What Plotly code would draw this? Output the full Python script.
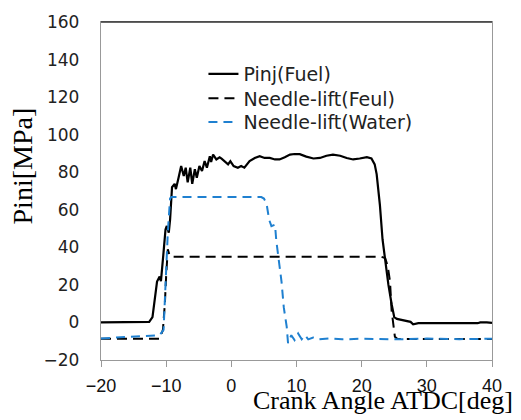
import plotly.graph_objects as go

# Fuel injection pressure trace
angle_pinj = [-20, -13.0, -12.6, -12.1, -11.8, -11.4, -11.0, -10.8, -10.4, -10.1, -9.9, -9.6,
              -9.4, -9.1, -8.7, -8.5, -8.1, -7.7, -7.3, -7.0, -6.7, -6.3, -6.0, -5.6, -5.3,
              -4.9, -4.5, -4.1, -3.75, -3.3, -3.1, -2.8, -2.3, -1.8, -1.5, -1.0, -0.5, -0.15,
              0.35, 1.0, 1.5, 2.0, 2.8, 3.6, 4.35, 5.1, 5.9, 6.7, 7.4, 8.2, 9.0, 9.7, 10.5,
              11.5, 12.6, 13.6, 14.6, 15.6, 16.7, 17.7, 18.7, 19.7, 20.8, 21.5, 22.0, 22.3,
              22.55, 22.8, 23.2, 23.6, 24.1, 24.6, 25.0, 25.4, 26.9, 27.5, 27.9, 28.7, 37.8,
              38.2, 39.2, 40]
pinj_fuel = [0, 0, 0.3, 2.8, 11.4, 21.8, 24.4, 22.0, 37.4, 49.5, 51.4, 47.8,
             54.7, 72.0, 73.8, 71.0, 77.0, 83.3, 78.0, 82.4, 74.6, 82.4, 73.8, 81.6, 77.0,
             83.3, 80.7, 85.9, 82.4, 88.5, 85.5, 89.4, 86.8, 87.9, 87.2, 85.9, 84.2, 85.9,
             83.3, 82.4, 83.3, 82.4, 85.9, 87.6, 88.5, 87.6, 87.6, 86.8, 86.8, 88.0, 89.4, 89.7, 89.6,
             88.3, 87.3, 87.6, 88.8, 89.4, 88.8, 87.6, 86.8, 87.3, 88.0, 87.3, 84.2, 79.0,
             72.0, 62.5, 44.3, 32.2, 20.1, 9.7, 2.8, 1.9, 0.7, 0.3, -1.0, -0.4, -0.4,
             0.0, 0.0, -0.2]

# Fuel needle lift signal
angle_feul = [-20, -11.0, -10.5, -10.2, -10.0, -9.75, -9.5, -9.3, 23.0, 23.6, 24.0, 24.35,
              24.6, 25.1, 25.5, 40]
lift_feul = [-8.7, -8.7, -4.0, 10.0, 25.0, 39.0, 36.0, 35.0, 35.0, 34.3, 30.0, 21.8,
             6.2, -7.6, -8.8, -8.8]

# Water needle lift signal
angle_water = [-20, -11.0, -10.4, -10.1, -9.75, -9.4, -9.2, 4.6, 5.0, 5.4, 5.8, 6.15, 6.7,
               6.9, 7.2, 7.7, 8.05, 8.5, 8.7, 9.2, 9.7, 10.25, 10.8, 11.3, 11.8, 12.55, 13.3,
               15, 17, 20, 25, 30, 35, 40]
lift_water = [-8.5, -6.8, -4.0, 21.8, 47.8, 66.0, 66.8, 66.8, 66.0, 63.4, 54.7, 51.3, 52.1,
              43.5, 35.7, 21.8, 8.0, -2.4, -11.0, -6.8, -9.4, -5.9, -9.0, -6.8, -9.0, -8.0, -9.0,
              -8.5, -9.0, -8.7, -9.0, -8.6, -8.9, -8.7]

x_ticks = [-20, -10, 0, 10, 20, 30, 40]
y_ticks = [-20, 0, 20, 40, 60, 80, 100, 120, 140, 160]
y_range = [-20, 160]

BLUE = "#1f80d0"

fig = go.Figure()
fig.add_trace(go.Scatter(x=angle_pinj, y=pinj_fuel, mode="lines", name="Pinj(Fuel)",
                         line=dict(color="black", width=2.2), legend="legend"))
fig.add_trace(go.Scatter(x=angle_feul, y=lift_feul, mode="lines", name="Needle-lift(Feul)",
                         line=dict(color="black", width=2, dash="10px,6px"), legend="legend2"))
fig.add_trace(go.Scatter(x=angle_water, y=lift_water, mode="lines", name="Needle-lift(Water)",
                         line=dict(color=BLUE, width=2, dash="9px,6px"), legend="legend3"))

# one legend box per entry so the rows sit close together
legend_font = dict(family="DejaVu Sans", size=19, color="#222")
legend_x = 0.262


def legend_box(y):
    return dict(x=legend_x, y=y, xanchor="left", yanchor="top",
                bgcolor="rgba(0,0,0,0)", font=legend_font)


axis_line = "#999999"
fig.update_layout(
    width=521, height=420,
    margin=dict(l=101, r=29, t=14, b=60),
    paper_bgcolor="white", plot_bgcolor="white",
    showlegend=True,
    legend=legend_box(0.902),
    legend2=legend_box(0.830),
    legend3=legend_box(0.760),
    xaxis=dict(range=[-20, 40], tickvals=x_ticks, showgrid=False, zeroline=False,
               showline=True, linecolor=axis_line, linewidth=1.3, mirror=True,
               ticks="outside", ticklen=6, tickcolor=axis_line, ticklabelstandoff=3,
               tickfont=dict(family="Liberation Sans", size=18, color="#111")),
    # labelled axis: long transparent ticks give the labels their gap from the axis line
    yaxis=dict(range=y_range, tickvals=y_ticks, showgrid=False, zeroline=False,
               showline=True, linecolor=axis_line, linewidth=1.3, mirror=True,
               ticks="outside", ticklen=17, tickcolor="rgba(0,0,0,0)",
               tickfont=dict(family="DejaVu Sans", size=17, color="#222")),
    # companion axis carrying the short visible tick marks
    yaxis2=dict(range=y_range, tickvals=y_ticks, overlaying="y", side="left",
                showgrid=False, zeroline=False, showline=False, showticklabels=False,
                ticks="outside", ticklen=7, tickcolor=axis_line, tickwidth=1.3),
    annotations=[
        dict(text="Crank Angle ATDC[deg]", xref="paper", yref="paper", x=1.06, y=-0.12,
             xanchor="right", yanchor="middle", showarrow=False,
             font=dict(family="Liberation Serif", size=26, color="black")),
        dict(text="Pini[MPa]", xref="paper", yref="paper", x=-0.2, y=0.575,
             xanchor="center", yanchor="middle", textangle=-90, showarrow=False,
             font=dict(family="Liberation Serif", size=28, color="black")),
    ],
    shapes=[dict(type="line", xref="paper", yref="paper", x0=0, x1=1, y0=1, y1=1,
                 line=dict(color="#333333", width=1.5))],
)

fig.write_html("out.html")
